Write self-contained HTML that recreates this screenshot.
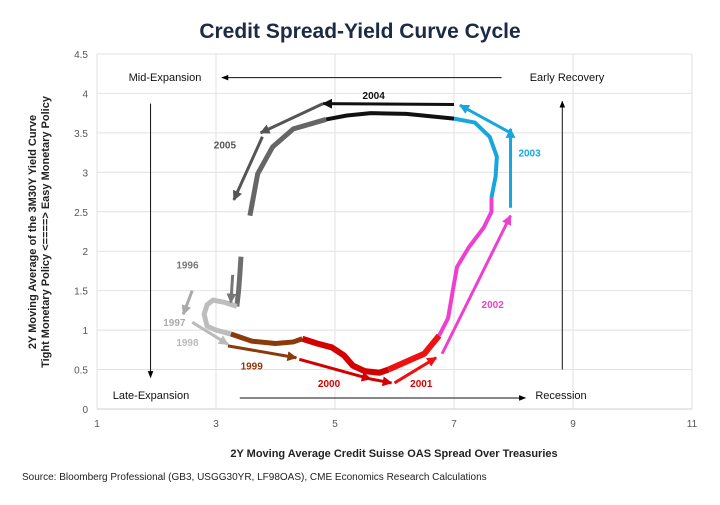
<!DOCTYPE html>
<html><head><meta charset="utf-8"><style>
body{margin:0;background:#fff;}
svg text{font-family:"Liberation Sans",sans-serif;}
</style></head><body>
<svg id="chart" width="720" height="500" viewBox="0 0 720 500" xmlns="http://www.w3.org/2000/svg">
<defs>
<marker id="ah" viewBox="0 0 10 10" refX="9" refY="5" markerWidth="3.3" markerHeight="3.3" orient="auto-start-reverse" markerUnits="strokeWidth"><path d="M0,0 L10,5 L0,10 z" fill="context-stroke"/></marker>
<marker id="ahk" viewBox="0 0 10 10" refX="9" refY="5" markerWidth="7" markerHeight="7" orient="auto" markerUnits="strokeWidth"><path d="M0,1 L10,5 L0,9 z" fill="#000"/></marker>
</defs>
<text x="360" y="38" text-anchor="middle" font-size="21" font-weight="bold" fill="#1b2a45">Credit Spread-Yield Curve Cycle</text>
<g id="grid"></g><g id="axes"></g><g id="quad"></g><g id="series"></g><g id="arrows"></g><g id="labels"></g>
<text x="394" y="457" text-anchor="middle" font-size="11" font-weight="bold" fill="#222">2Y Moving Average Credit Suisse OAS Spread Over Treasuries</text>
<text transform="translate(36,232) rotate(-90)" text-anchor="middle" font-size="11" font-weight="bold" fill="#222"><tspan x="0" dy="0">2Y Moving Average of the 3M30Y Yield Curve</tspan><tspan x="0" dy="13">Tight Monetary Policy &lt;====&gt; Easy Monetary Policy</tspan></text>
<text x="22" y="480" font-size="10" fill="#222">Source: Bloomberg Professional (GB3, USGG30YR, LF98OAS), CME Economics Research Calculations</text>
</svg>
<script>
const xTicks=[1,3,5,7,9,11];
const yTicks=[0,0.5,1,1.5,2,2.5,3,3.5,4,4.5];
const yTickLabels=["0","0.5","1","1.5","2","2.5","3","3.5","4","4.5"];
const s1996=[[3.42,1.93],[3.4,1.7],[3.38,1.5],[3.35,1.3]];
const s1997=[[3.35,1.3],[3.15,1.35],[2.95,1.38],[2.85,1.32],[2.8,1.2],[2.85,1.05],[3.0,1.0],[3.25,0.95]];
const s1999=[[3.25,0.95],[3.6,0.86],[4.0,0.83],[4.3,0.85],[4.45,0.89]];
const s2000=[[4.45,0.89],[4.7,0.83],[4.95,0.78],[5.15,0.68],[5.3,0.55],[5.5,0.48],[5.75,0.46],[5.9,0.5]];
const s2001=[[5.9,0.5],[6.2,0.6],[6.5,0.7],[6.75,0.93]];
const s2002=[[6.75,0.93],[6.9,1.15],[6.98,1.5],[7.05,1.8],[7.25,2.05],[7.5,2.3],[7.63,2.5],[7.63,2.68]];
const s2003=[[7.63,2.68],[7.7,2.95],[7.72,3.2],[7.6,3.45],[7.35,3.63],[7.0,3.68]];
const s2004=[[7.0,3.68],[6.6,3.71],[6.2,3.74],[5.6,3.75],[5.2,3.72],[4.85,3.67]];
const s2005=[[4.85,3.67],[4.3,3.55],[3.95,3.32],[3.7,2.98],[3.57,2.45]];
const seriesList=[["s1996",s1996,"#6e6e6e",5],["s1997",s1997,"#bdbdbd",5],["s1999",s1999,"#8b3a0a",5],["s2000",s2000,"#d40000",6],["s2001",s2001,"#ee1111",6],["s2002",s2002,"#ee3fcf",4],["s2003",s2003,"#19a6de",4],["s2004",s2004,"#111111",4],["s2005",s2005,"#666666",5]];
const arrowList=[
 ["arrow-2004",[7.0,3.86],[4.8,3.87],"#111"],
 ["arrow-2005a",[4.8,3.87],[3.75,3.5],"#555"],
 ["arrow-2005b",[3.78,3.45],[3.3,2.65],"#555"],
 ["arrow-1996",[3.28,1.7],[3.25,1.35],"#777"],
 ["arrow-1997",[2.6,1.5],[2.45,1.2],"#aaa"],
 ["arrow-1998",[2.6,1.1],[3.2,0.82],"#bbb"],
 ["arrow-1999",[3.2,0.8],[4.35,0.65],"#8b3a0a"],
 ["arrow-2000a",[4.4,0.63],[5.6,0.38],"#d40000"],
 ["arrow-2000b",[5.6,0.38],[5.95,0.33],"#d40000"],
 ["arrow-2001",[6.0,0.33],[6.7,0.65],"#ee1111"],
 ["arrow-2002",[6.8,0.7],[7.95,2.45],"#ee3fcf"],
 ["arrow-2003a",[7.95,2.55],[7.95,3.55],"#19a6de"],
 ["arrow-2003b",[7.95,3.5],[7.1,3.85],"#19a6de"]];
const yearLabels=[["1996",2.52,1.78,"#777"],["1997",2.3,1.05,"#aaa"],["1998",2.52,0.8,"#bbb"],["1999",3.6,0.5,"#8b3a0a"],["2000",4.9,0.28,"#d40000"],["2001",6.45,0.28,"#d40000"],["2002",7.65,1.28,"#ee3fcf"],["2003",8.27,3.2,"#19a6de"],["2004",5.65,3.93,"#111"],["2005",3.15,3.3,"#555"]];
const X=v=>97+(v-1)*59.5, Y=v=>409-v*78.9;
const NS="http://www.w3.org/2000/svg";
function mk(t,a,p){const e=document.createElementNS(NS,t);for(const k in a)e.setAttribute(k,a[k]);document.getElementById(p).appendChild(e);return e;}
xTicks.forEach((t,i)=>{
 const l=mk("line",{x1:X(t),x2:X(t),y1:Y(4.5),y2:Y(0),stroke:"#e2e2e2","stroke-width":1},"grid");
 
 
 const tx=mk("text",{x:X(t),y:427,"text-anchor":"middle","font-size":10,fill:"#555"},"axes");tx.textContent=t;
 
 
});
yTicks.forEach((t,i)=>{
 const l=mk("line",{x1:X(1),x2:X(11),y1:Y(t),y2:Y(t),stroke:i==0?"#cfcfcf":"#e2e2e2","stroke-width":1},"grid");
 
 
 const tx=mk("text",{x:88,y:Y(t)+4,"text-anchor":"end","font-size":10,fill:"#555"},"axes");tx.textContent=yTickLabels[i];
 
 
});
const quadArrows=[["mid-expansion-arrow",[7.8,4.2],[3.1,4.2]],["late-expansion-arrow",[1.9,3.87],[1.9,0.4]],["recession-arrow",[3.4,0.14],[8.2,0.14]],["early-recovery-arrow",[8.82,0.5],[8.82,3.9]]];
quadArrows.forEach(q=>{
 const l=mk("line",{x1:X(q[1][0]),y1:Y(q[1][1]),x2:X(q[2][0]),y2:Y(q[2][1]),stroke:"#111","stroke-width":1,"marker-end":"url(#ahk)"},"quad");
 
 
});
const quadLabels=[["Mid-Expansion",165,81],["Early Recovery",567,81],["Late-Expansion",151,399],["Recession",561,399]];
quadLabels.forEach(q=>{
 const t=mk("text",{x:q[1],y:q[2],"text-anchor":"middle","font-size":11,fill:"#111"},"quad");t.textContent=q[0];
 
 
});
seriesList.forEach(s=>{
 const p=mk("polyline",{points:s[1].map(d=>X(d[0])+","+Y(d[1])).join(" "),fill:"none",stroke:s[2],"stroke-width":s[3],"stroke-linejoin":"round","stroke-linecap":"butt"},"series");
 
 
});
arrowList.forEach(a=>{
 const l=mk("line",{x1:X(a[1][0]),y1:Y(a[1][1]),x2:X(a[2][0]),y2:Y(a[2][1]),stroke:a[3],"stroke-width":3,"marker-end":"url(#ah)"},"arrows");
 
 
});
yearLabels.forEach(y=>{
 const t=mk("text",{x:X(y[1]),y:Y(y[2]),"text-anchor":"middle","font-size":10,"font-weight":"bold",fill:y[3]},"labels");t.textContent=y[0];
 
 
});
</script>
</body></html>
